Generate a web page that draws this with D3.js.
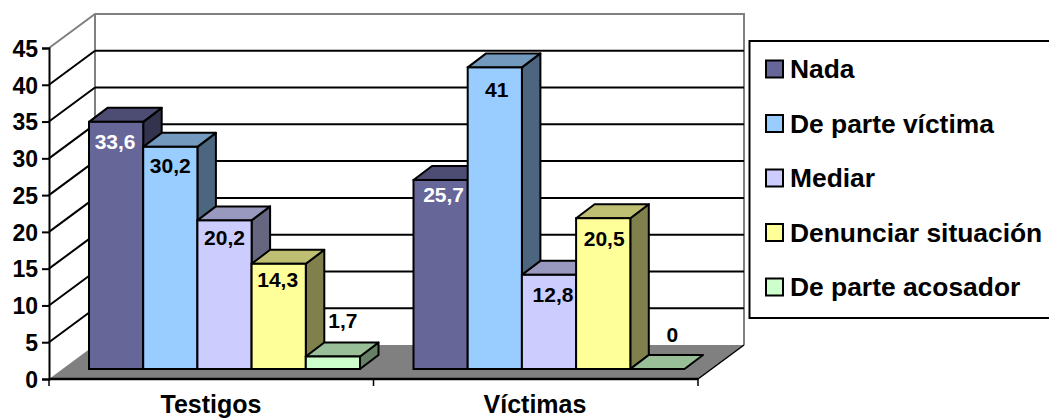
<!DOCTYPE html>
<html><head><meta charset="utf-8">
<script src="https://cdn.jsdelivr.net/npm/d3@7"></script>
<style>html,body{margin:0;padding:0;background:#fff;overflow:hidden}svg{display:block}text{font-family:"Liberation Sans",Arial,sans-serif;font-weight:bold;fill:#000}</style>
</head><body><svg id="c" width="1049" height="418"></svg>
<script>
const groups = ["Testigos", "Víctimas"];
const seriesNames = ["Nada", "De parte víctima", "Mediar", "Denunciar situación", "De parte acosador"];
const testigos = [33.6, 30.2, 20.2, 14.3, 1.7];
const victimas = [25.7, 41, 12.8, 20.5, 0];
const valueLabels = [["33,6","30,2","20,2","14,3","1,7"],["25,7","41","12,8","20,5","0"]];
const colors = ["#666699", "#99CCFF", "#CCCCFF", "#FFFF99", "#CCFFCC"];
const yTicks = [0,5,10,15,20,25,30,35,40,45];

const svg = d3.select("#c");
const W = {x:46, y:-34};       // wall depth
const D = {x:18.5, y:-14};     // bar depth
const floorOff = {x:40, y:-10}; // bar base inside the floor
const y = d3.scaleLinear().domain([0,45]).range([379,48]);
const x0 = d3.scaleBand().domain(groups).range([49,698]);
const pts = a => a.map(p=>p.join(",")).join(" ");
const shade = (c,k)=>{const r=d3.rgb(c);return d3.rgb(r.r*k,r.g*k,r.b*k).formatHex();};
const L = x0.range()[0], R = x0.range()[1];

// Floor
svg.append("polygon").attr("points",pts([[L,y(0)],[R,y(0)],[R+W.x,y(0)+W.y],[L+W.x,y(0)+W.y]]))
  .attr("fill","#808080");
// Wall outline
svg.append("polyline").attr("points",pts([[L,y(45)],[L+W.x,y(45)+W.y],[R+W.x,y(45)+W.y],[R+W.x,y(0)+W.y]]))
  .attr("fill","none").attr("stroke","#808080").attr("stroke-width",2);
svg.append("line").attr("x1",L+W.x).attr("x2",L+W.x).attr("y1",y(45)+W.y).attr("y2",y(0)+W.y)
  .attr("stroke","#808080").attr("stroke-width",2);
// Gridlines
yTicks.filter(t=>t>0).forEach(t=>{
  if(t<45){
    svg.append("line").attr("x1",L+W.x).attr("x2",R+W.x).attr("y1",y(t)+W.y).attr("y2",y(t)+W.y)
      .attr("stroke","#000").attr("stroke-width",2);
    svg.append("line").attr("x1",L).attr("x2",L+W.x).attr("y1",y(t)).attr("y2",y(t)+W.y)
      .attr("stroke","#000").attr("stroke-width",2);
  }
});
svg.append("line").attr("x1",R).attr("x2",R+W.x).attr("y1",y(0)).attr("y2",y(0)+W.y).attr("stroke","#000").attr("stroke-width",1.5);

// Bars
const barBase = y(0)+floorOff.y;
const h = v => y(0)-y(v);
const nudge = [[[-1,1],[0,0],[0,-1],[-1,-3],[10,-1]],[[3,-4],[2,4],[4,1],[1,1.5],[15,0]]];
[testigos,victimas].forEach((vals,gi)=>{
  const g0 = x0(groups[gi])+floorOff.x;
  const x1 = d3.scaleBand().domain(seriesNames).range([g0,g0+271]);
  const bw = x1.bandwidth();
  const G = svg.append("g");
  vals.forEach((v,i)=>{
    const a = x1(seriesNames[i]), b = a+bw, t = barBase-h(v);
    const c = colors[i];
    if(v>0){
      G.append("polygon").attr("points",pts([[b,t],[b+D.x,t+D.y],[b+D.x,barBase+D.y],[b,barBase]]))
        .attr("fill",shade(c,.5)).attr("stroke","#000").attr("stroke-width",2).attr("stroke-linejoin","round");
    }
    G.append("polygon").attr("points",pts([[a,t],[a+D.x,t+D.y],[b+D.x,t+D.y],[b,t]]))
      .attr("fill",shade(c,.75)).attr("stroke","#000").attr("stroke-width",2).attr("stroke-linejoin","round");
    if(v>0){
      G.append("rect").attr("x",a).attr("y",t).attr("width",bw).attr("height",h(v))
        .attr("fill",c).attr("stroke","#000").attr("stroke-width",2);
    }
  });
  vals.forEach((v,i)=>{
    const a = x1(seriesNames[i]), t = barBase-h(v), small = v<5;
    G.append("text").attr("x",a+bw/2+nudge[gi][i][0]).attr("y",(small? t-27 : t+26)+nudge[gi][i][1])
      .attr("text-anchor","middle").style("font-size","21px")
      .style("fill",i===0?"#fff":"#000").text(valueLabels[gi][i]);
  });
});

// Axes
const yAxis = d3.axisLeft(y).tickValues(yTicks).tickSize(7).tickPadding(4);
const ga = svg.append("g").attr("transform",`translate(${L},0)`).call(yAxis);
ga.selectAll("path").attr("stroke","#000").attr("stroke-width",2);
ga.selectAll("line").attr("stroke","#000").attr("stroke-width",2);
ga.selectAll("text").style("font-size","23px").attr("dy","0.36em");
svg.append("line").attr("x1",L).attr("x2",R).attr("y1",y(0)).attr("y2",y(0)).attr("stroke","#000").attr("stroke-width",2.5);
[L,(L+R)/2,R].forEach(v=>svg.append("line").attr("x1",v).attr("x2",v).attr("y1",y(0)).attr("y2",y(0)+7).attr("stroke","#000").attr("stroke-width",1.5));
groups.forEach((n,i)=>svg.append("text").attr("x",[211,535][i]).attr("y",413).attr("text-anchor","middle").style("font-size","25px").text(n));

// Legend
const ly = d3.scalePoint().domain(seriesNames).range([69,287]);
svg.append("rect").attr("x",749.5).attr("y",41).attr("width",320).attr("height",277).attr("fill","#fff").attr("stroke","#000").attr("stroke-width",2);
seriesNames.forEach((n,i)=>{
  svg.append("rect").attr("x",766).attr("y",ly(n)-8.5).attr("width",17).attr("height",17).attr("fill",colors[i]).attr("stroke","#000").attr("stroke-width",2);
  svg.append("text").attr("x",790).attr("y",ly(n)+9).style("font-size","26.4px").text(n);
});
</script></body></html>
